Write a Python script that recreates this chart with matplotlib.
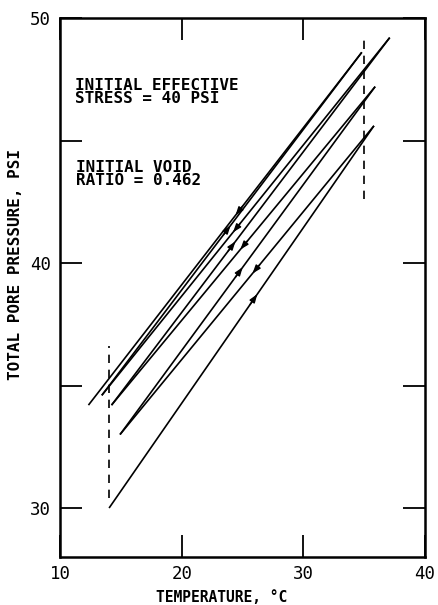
import matplotlib
matplotlib.use("Agg")
import matplotlib.pyplot as plt
import numpy as np

# ---- data ----
# path of the heating / cooling cycles (temperature degC, total pore pressure psi)
path_temp = [14.0, 35.8, 14.9, 35.9, 14.2, 37.1, 13.4, 34.8, 12.3]
path_psi = [30.0, 45.6, 33.0, 47.2, 34.2, 49.2, 34.6, 48.6, 34.2]
# temperature at which each segment's arrow sits
arrow_temp = [26.2, 25.8, 25.0, 24.8, 24.4, 24.2, 24.0, 24.4]
# dashed temperature limits
dash_temp = [14.0, 35.0]
dash_psi_lo = [30.4, 42.6]
dash_psi_hi = [36.6, 49.2]

x_ticks = [10, 20, 30, 40]
y_ticks = [30, 40, 50]
y_minor = [35, 45]

plt.rcParams["font.family"] = ["DejaVu Sans Mono", "DejaVu Sans"]

fig = plt.figure(figsize=(4.39, 6.05), dpi=100)
ax = fig.add_axes([0.1378, 0.0793, 0.968 - 0.1378, 0.9702 - 0.0793])
ax.set_xlim(10, 40)
ax.set_ylim(28, 50)

for sp in ax.spines.values():
    sp.set_linewidth(1.8)

ax.set_xticks(x_ticks)
ax.set_xticklabels([str(v) for v in x_ticks])
ax.set_yticks(y_ticks)
ax.set_yticklabels([str(v) for v in y_ticks])
ax.set_yticks(y_minor, minor=True)
ax.tick_params(axis="both", which="both", direction="in", length=16, width=1.3,
               top=True, right=True, labelsize=12.5)
ax.tick_params(axis="x", pad=6)
ax.tick_params(axis="y", pad=7)

# segments
for i in range(len(path_temp) - 1):
    ax.plot(path_temp[i:i + 2], path_psi[i:i + 2], color="black", lw=1.2,
            solid_capstyle="butt")
    t0, t1 = path_temp[i], path_temp[i + 1]
    p0, p1 = path_psi[i], path_psi[i + 1]
    ta = arrow_temp[i]
    pa = p0 + (p1 - p0) * (ta - t0) / (t1 - t0)
    d = np.sign(t1 - t0) * 0.6
    tb = ta - d
    pb = p0 + (p1 - p0) * (tb - t0) / (t1 - t0)
    ax.annotate("", xy=(ta, pa), xytext=(tb, pb),
                arrowprops=dict(arrowstyle="-|>,head_length=0.5,head_width=0.18",
                                color="black", lw=1.0, shrinkA=0, shrinkB=0))

for t, lo, hi in zip(dash_temp, dash_psi_lo, dash_psi_hi):
    ax.plot([t, t], [lo, hi], color="black", lw=1.2, dashes=(5, 4))

ax.text(11.2, 47.55, "INITIAL EFFECTIVE\nSTRESS = 40 PSI", fontsize=11.5,
        va="top", ha="left", linespacing=0.85, fontweight="bold")
ax.text(11.3, 44.2, "INITIAL VOID\nRATIO = 0.462", fontsize=11.5,
        va="top", ha="left", linespacing=0.85, fontweight="bold")

fig.text(222 / 439, 1 - 597 / 605, "TEMPERATURE, °C", fontsize=10.5,
         ha="center", va="center", fontweight="bold")
fig.text(16 / 439, 1 - 265 / 605, "TOTAL PORE PRESSURE, PSI", fontsize=11.5,
         ha="center", va="center", rotation=90, fontweight="bold")

fig.savefig("out.png", dpi=100)
